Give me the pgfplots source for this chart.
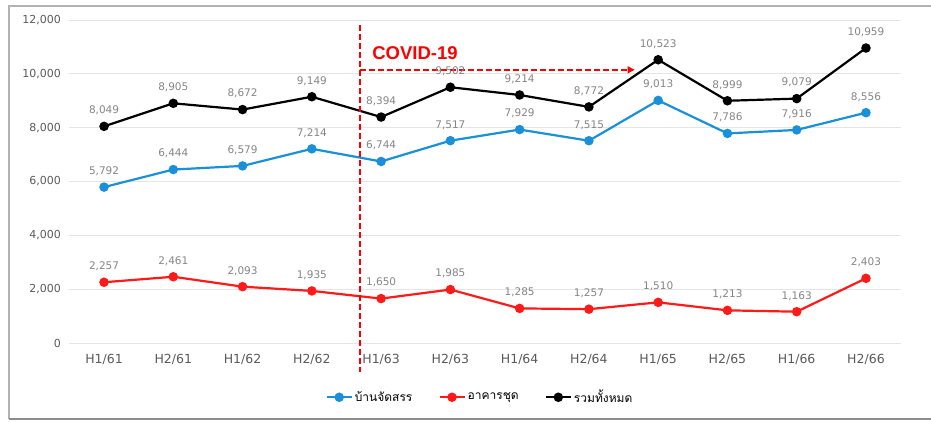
\documentclass[border=0pt]{standalone}
\usepackage{pgfplots}
\pgfplotsset{compat=1.18}
\usepackage{fontspec}
\setmainfont{DejaVu Sans}
\newfontfamily\thaifont[Script=Thai]{Loma}
\newfontfamily\covidfont{Liberation Sans}
\usetikzlibrary{arrows.meta}
\definecolor{serblue}{HTML}{1B90DA}
\definecolor{serred}{HTML}{FF1A1A}
\definecolor{lblgray}{HTML}{858585}
\definecolor{tickgray}{HTML}{5A5A5A}
\begin{document}
\begin{tikzpicture}[x=1pt,y=1pt]
\useasboundingbox (0,0) rectangle (931,421);
\draw[black!30, line width=1.6pt] (9,2) -- (9,415) -- (931,415);
\draw[black!45, line width=1.6pt] (9,2) -- (931,2);
\begin{axis}[
  at={(69.4pt,78pt)}, anchor=south west, scale only axis,
  width=831.2pt, height=323pt,
  xmin=-0.5, xmax=11.5, ymin=0, ymax=12000,
  axis line style={draw=none},
  major tick length=0pt,
  ytick={0,2000,...,12000},
  scaled y ticks=false,
  ymajorgrids, grid style={black!10, line width=0.8pt},
  xtick={0,...,11},
  xticklabels={H1/61,H2/61,H1/62,H2/62,H1/63,H2/63,H1/64,H2/64,H1/65,H2/65,H1/66,H2/66},
  /pgf/number format/.cd, 1000 sep={,}, assume math mode=true,
  /pgfplots/.cd,
  tick label style={font=\fontsize{11}{12}\selectfont, text=tickgray},
  xticklabel style={yshift=-8pt, font=\fontsize{12.5}{13}\selectfont},
  yticklabel style={xshift=-5pt},
  clip=false,
  nodes near coords,
  every node near coord/.append style={font=\fontsize{10.5}{12}\selectfont, text=lblgray, yshift=7pt},
  legend columns=3,
  legend style={draw=none, fill=none, at={(0.494,-0.168)}, anchor=center, font=\thaifont\fontsize{12}{13}\selectfont, /tikz/every even column/.append style={column sep=24pt}},
  every axis legend/.append style={legend image code/.code={\draw[#1] (0pt,0pt) -- (25pt,0pt); \draw[#1, mark repeat=1] plot coordinates {(12.5pt,0pt)};}},
]
\addplot[serblue, line width=2.2pt, mark=*, mark size=3.6pt] coordinates {
(0,5792) (1,6444) (2,6579) (3,7214) (4,6744) (5,7517) (6,7929) (7,7515) (8,9013) (9,7786) (10,7916) (11,8556)};
\addlegendentry{บ้านจัดสรร}
\addplot[serred, line width=2.2pt, mark=*, mark size=3.6pt] coordinates {
(0,2257) (1,2461) (2,2093) (3,1935) (4,1650) (5,1985) (6,1285) (7,1257) (8,1510) (9,1213) (10,1163) (11,2403)};
\addlegendentry{อาคารชุด}
\addplot[black, line width=2.2pt, mark=*, mark size=3.6pt] coordinates {
(0,8049) (1,8905) (2,8672) (3,9149) (4,8394) (5,9502) (6,9214) (7,8772) (8,10523) (9,8999) (10,9079) (11,10959)};
\addlegendentry{รวมทั้งหมด}
\draw[draw=red, line width=1.8pt, dash pattern=on 6pt off 3pt] (axis cs:3.69,11813) -- (axis cs:3.69,-1077);
\draw[draw=red, line width=1.6pt, dash pattern=on 6pt off 3pt, -{Triangle[length=7pt,width=7pt]}] (axis cs:3.69,10150) -- (axis cs:7.66,10150);
\node[text=red, anchor=west, inner sep=0pt, font=\covidfont\bfseries\fontsize{18.5}{19}\selectfont] at (axis cs:3.87,10770) {COVID-19};
\end{axis}
\end{tikzpicture}
\end{document}
